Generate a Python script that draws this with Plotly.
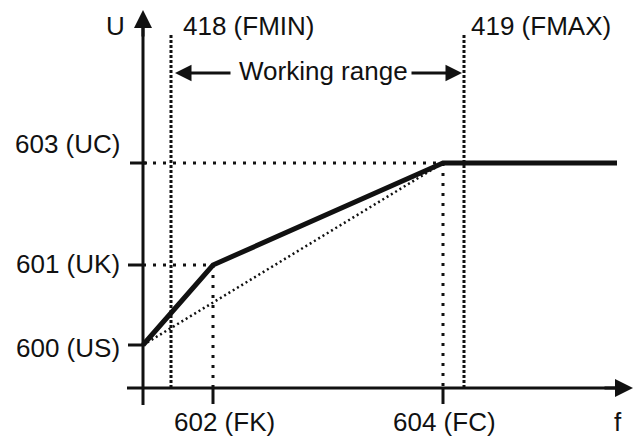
import plotly.graph_objects as go

# characteristic points (f, U) in drawing units
f_pts = [0.0, 7.0, 30.0, 47.4]
u_pts = [4.3, 12.3, 22.5, 22.5]

# named levels
f_fk, f_fc = 7.0, 30.0
f_fmin, f_fmax = 2.8, 32.1
u_us, u_uk, u_uc = 4.3, 12.3, 22.5

y_labels = ["600 (US)", "601 (UK)", "603 (UC)"]
y_label_pos = [4.0, 12.4, 24.45]
x_labels = ["602 (FK)", "604 (FC)"]
x_label_pos = [8.1, 30.1]

black = "#111111"
font = dict(family="Arial, Liberation Sans, sans-serif", size=26, color=black)

fig = go.Figure()

# dotted guide lines
guide = dict(color=black, width=3, dash="3px,7px")
fig.add_trace(go.Scatter(x=[0, f_fk, f_fk], y=[u_uk, u_uk, 0], mode="lines", line=guide))
fig.add_trace(go.Scatter(x=[0, f_fc, f_fc], y=[u_uc, u_uc, 0], mode="lines", line=guide))

# FMIN / FMAX limits
limit = dict(color=black, width=3, dash="3px,2px")
fig.add_trace(go.Scatter(x=[f_fmin, f_fmin], y=[0, 35.5], mode="lines", line=limit))
fig.add_trace(go.Scatter(x=[f_fmax, f_fmax], y=[0, 35.3], mode="lines", line=limit))

# linear reference (dotted diagonal)
fig.add_trace(go.Scatter(x=[0, f_fc], y=[u_us, u_uc], mode="lines",
                         line=dict(color=black, width=2.5, dash="2px,3px")))

# characteristic curve
fig.add_trace(go.Scatter(x=f_pts, y=u_pts, mode="lines",
                         line=dict(color=black, width=5)))

# axes
fig.add_trace(go.Scatter(x=[-1.6, 48.0], y=[0, 0], mode="lines", line=dict(color=black, width=3)))
fig.add_trace(go.Scatter(x=[0, 0], y=[-1.7, 36.5], mode="lines", line=dict(color=black, width=3)))

# ticks
tick = dict(color=black, width=3)
fig.add_trace(go.Scatter(x=[-1.3, 0.4], y=[u_uc, u_uc], mode="lines", line=tick))
fig.add_trace(go.Scatter(x=[-1.5, 0], y=[u_uk, u_uk], mode="lines", line=tick))
fig.add_trace(go.Scatter(x=[-1.5, 0], y=[u_us, u_us], mode="lines", line=tick))
fig.add_trace(go.Scatter(x=[f_fk, f_fk], y=[0, -1.6], mode="lines", line=tick))
fig.add_trace(go.Scatter(x=[f_fc, f_fc], y=[0, -1.6], mode="lines", line=tick))

ann = []
# axis arrowheads
ann.append(dict(x=0, y=37.8, ax=0, ay=35.0, xref="x", yref="y", axref="x", ayref="y",
                text="", showarrow=True, arrowhead=2, arrowsize=1.2, arrowwidth=3, arrowcolor=black))
ann.append(dict(x=49.0, y=0, ax=46.0, ay=0, xref="x", yref="y", axref="x", ayref="y",
                text="", showarrow=True, arrowhead=2, arrowsize=1.2, arrowwidth=3, arrowcolor=black))
# working range arrows
ann.append(dict(x=3.2, y=31.5, ax=8.9, ay=31.5, xref="x", yref="y", axref="x", ayref="y",
                text="", showarrow=True, arrowhead=2, arrowsize=1.1, arrowwidth=3, arrowcolor=black))
ann.append(dict(x=31.9, y=31.5, ax=26.7, ay=31.5, xref="x", yref="y", axref="x", ayref="y",
                text="", showarrow=True, arrowhead=2, arrowsize=1.1, arrowwidth=3, arrowcolor=black))

for t, y in zip(y_labels, y_label_pos):
    ann.append(dict(x=-2.1, y=y, text=t, xanchor="right", yanchor="middle", showarrow=False, font=font))
for t, x in zip(x_labels, x_label_pos):
    ann.append(dict(x=x, y=-3.4, text=t, xanchor="center", yanchor="middle", showarrow=False, font=font))
ann.append(dict(x=47.5, y=-3.4, text="f", xanchor="center", yanchor="middle", showarrow=False, font=font))
ann.append(dict(x=-2.8, y=36.2, text="U", xanchor="center", yanchor="middle", showarrow=False, font=font))
ann.append(dict(x=3.8, y=36.2, text="418 (FMIN)", xanchor="left", yanchor="middle", showarrow=False, font=font))
ann.append(dict(x=32.6, y=36.2, text="419 (FMAX)", xanchor="left", yanchor="middle", showarrow=False, font=font))
ann.append(dict(x=18.0, y=31.7, text="Working range", xanchor="center", yanchor="middle", showarrow=False, font=font))

fig.update_layout(
    width=633, height=436,
    margin=dict(l=0, r=0, t=0, b=0),
    paper_bgcolor="white", plot_bgcolor="white",
    showlegend=False,
    xaxis=dict(range=[-14.3, 49.0], visible=False, fixedrange=True),
    yaxis=dict(range=[-4.8, 38.8], visible=False, fixedrange=True),
    annotations=ann,
)

fig.write_html("out.html", config={"displayModeBar": False},
               post_script="document.body.style.margin='0';")
